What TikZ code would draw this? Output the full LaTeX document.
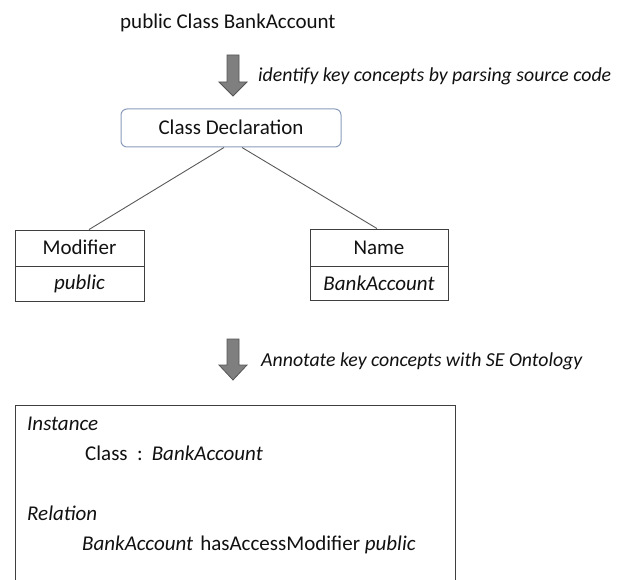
\documentclass[tikz,border=0pt]{standalone}
\usepackage{fontspec}
\setmainfont{Carlito}
\definecolor{txt}{HTML}{111111}
\definecolor{arrowfill}{HTML}{7F7F7F}
\definecolor{arrowline}{HTML}{555555}
\definecolor{cdline}{HTML}{8A9DBB}
\definecolor{boxline}{HTML}{3F3F3F}
\definecolor{connline}{HTML}{5A5A5A}
\tikzset{
  lbl/.style={inner sep=0pt, anchor=base west, text=txt},
  steplbl/.style={lbl, font=\fontsize{19.8}{24}\selectfont\itshape},
  bigarrow/.style={fill=arrowfill, draw=arrowline, line width=0.8pt, line join=miter},
  cellbox/.style={draw=boxline, line width=0.9pt, inner sep=0pt, text=txt},
  conn/.style={draw=connline, line width=0.9pt}
}
\begin{document}
\begin{tikzpicture}[x=1pt,y=-1pt,font=\fontsize{21}{25}\selectfont]
\useasboundingbox (0,0) rectangle (621,580);
\fill[white] (0,0) rectangle (621,580);

% title
\node[lbl] (title) at (120,29) {public Class BankAccount};

% first arrow
\draw[bigarrow] (227,55) -- (239,55) -- (239,82) -- (247,82) -- (233,96) -- (219,82) -- (227,82) -- cycle;
\node[steplbl] (step1) at (258,82) {identify key concepts by parsing source code};

% class declaration
\node[draw=cdline, line width=1pt, rounded corners=6pt, minimum width=220pt, minimum height=38pt,
      inner sep=0pt, text height=13.5pt, text depth=0pt, text=txt] (cd) at (231,128) {Class Declaration};

% modifier box
\node[cellbox, minimum width=129pt, minimum height=36pt, text height=13.5pt, text depth=0pt] (mod) at (79.5,248) {Modifier};
\node[cellbox, minimum width=129pt, minimum height=35pt, text height=13.5pt, text depth=4pt, anchor=north] (modv) at (mod.south) {\itshape public};

% name box
\node[cellbox, minimum width=138pt, minimum height=37pt, text height=13.5pt, text depth=0pt] (nm) at (379,247.5) {Name};
\node[cellbox, minimum width=138pt, minimum height=34pt, text height=13.5pt, text depth=0pt, anchor=north] (nmv) at (nm.south) {\itshape BankAccount};

% connectors
\draw[conn] ([xshift=-7pt]cd.south) -- ([xshift=9.5pt]mod.north);
\draw[conn] ([xshift=11pt]cd.south) -- ([xshift=-2pt]nm.north);

% second arrow
\draw[bigarrow] (227,339) -- (239,339) -- (239,365) -- (247,365) -- (233,380) -- (219,365) -- (227,365) -- cycle;
\node[steplbl] (step2) at (261,366) {Annotate key concepts with SE Ontology};

% ontology box (cut off at bottom)
\coordinate (bl) at (15,581);
\coordinate (tl) at (15,405);
\coordinate (tr) at (455,405);
\coordinate (br) at (455,581);
\draw[draw=boxline, line width=0.9pt] (bl) -- (tl) -- (tr) -- (br);

\node[lbl] (inst) at (27,430) {\itshape Instance};
\node[lbl] (instv) at (85,460) {Class\hspace{9.5pt}:\hspace{9pt}\itshape BankAccount};
\node[lbl] (rel) at (27,520) {\itshape Relation};
\node[lbl] (relv) at (82,550) {\textit{BankAccount}\hspace{7pt}hasAccessModifier \textit{public}};
\end{tikzpicture}
\end{document}
